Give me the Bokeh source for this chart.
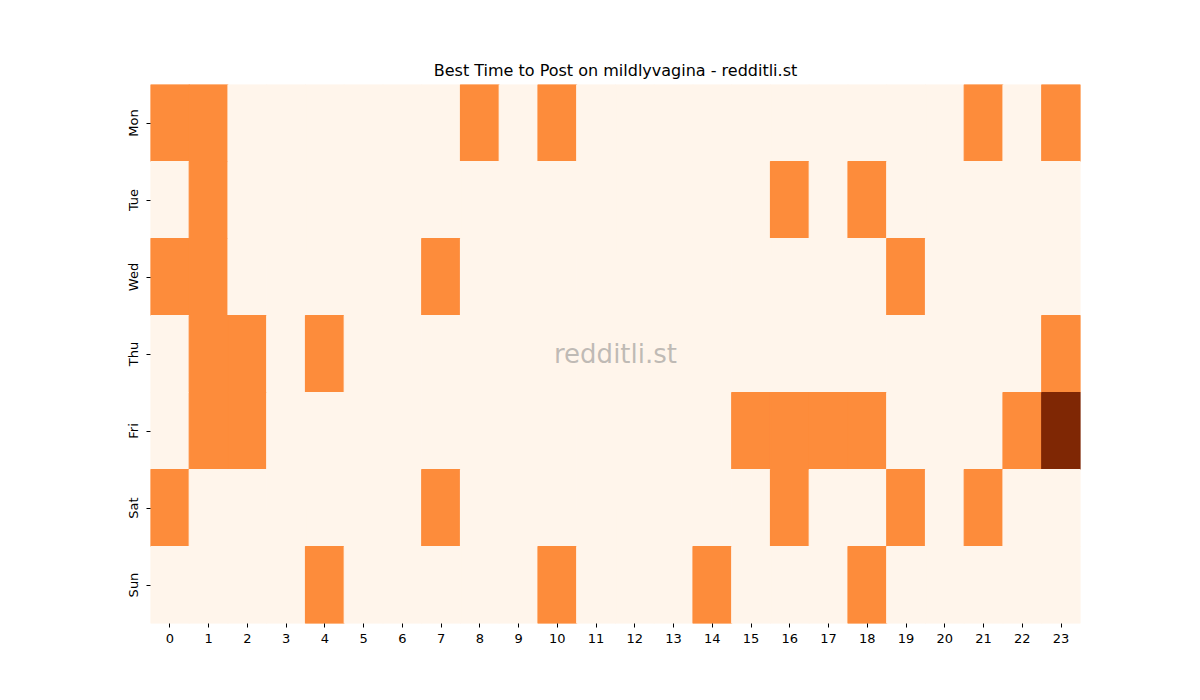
import math
from bokeh.plotting import figure
from bokeh.models import ColumnDataSource, FactorRange, LinearColorMapper
from bokeh.palettes import Oranges256
from bokeh.embed import file_html
from bokeh.resources import INLINE
from bokeh.core.properties import value

days = ["Mon", "Tue", "Wed", "Thu", "Fri", "Sat", "Sun"]
hours = [str(h) for h in range(24)]

# rows: Mon..Sun, columns: hour 0..23
mon = [1,1,0,0,0,0,0,0,1,0,1,0,0,0,0,0,0,0,0,0,0,1,0,1]
tue = [0,1,0,0,0,0,0,0,0,0,0,0,0,0,0,0,1,0,1,0,0,0,0,0]
wed = [1,1,0,0,0,0,0,1,0,0,0,0,0,0,0,0,0,0,0,1,0,0,0,0]
thu = [0,1,1,0,1,0,0,0,0,0,0,0,0,0,0,0,0,0,0,0,0,0,0,1]
fri = [0,1,1,0,0,0,0,0,0,0,0,0,0,0,0,1,1,1,1,0,0,0,1,2]
sat = [1,0,0,0,0,0,0,1,0,0,0,0,0,0,0,0,1,0,0,1,0,1,0,0]
sun = [0,0,0,0,1,0,0,0,0,0,1,0,0,0,1,0,0,0,1,0,0,0,0,0]
rows = [mon, tue, wed, thu, fri, sat, sun]

xs, ys, vs = [], [], []
for d, r in zip(days, rows):
    for h, v in zip(hours, r):
        xs.append(h)
        ys.append(d)
        vs.append(v)

src = ColumnDataSource(dict(x=xs, y=ys, v=vs))
mapper = LinearColorMapper(palette=list(reversed(Oranges256)), low=0, high=max(vs))

p = figure(width=1184, height=684, output_backend="svg", toolbar_location=None,
           x_range=FactorRange(factors=hours), y_range=FactorRange(factors=list(reversed(days))),
           frame_width=930, frame_height=539,
           min_border_left=150, min_border_right=104, min_border_top=84, min_border_bottom=61,
           title="Best Time to Post on mildlyvagina - redditli.st")
p.rect(x="x", y="y", width=1, height=1, source=src,
       fill_color={"field": "v", "transform": mapper},
       line_color={"field": "v", "transform": mapper}, line_width=1.2)

p.text(x=[12], y=[3.5], text=["redditli.st"], text_align="center", text_baseline="middle",
       text_font=value("DejaVu Sans"), text_font_size="26px", text_color="gray", text_alpha=0.5)

p.title.align = "center"
p.title.text_font = "DejaVu Sans"
p.title.text_font_size = "16px"
p.title.text_font_style = "normal"
p.title.text_color = "black"
p.title.offset = 0

p.grid.visible = False
p.outline_line_color = None
p.background_fill_color = "white"
p.border_fill_color = "white"
for ax in (p.xaxis[0], p.yaxis[0]):
    ax.axis_line_color = None
    ax.major_tick_in = 0
    ax.major_tick_out = 4
    ax.minor_tick_line_color = None
    ax.major_tick_line_color = "black"
    ax.major_label_text_font = "DejaVu Sans"
    ax.major_label_text_font_size = "13px"
    ax.major_label_text_color = "black"
    ax.major_label_standoff = 6
    ax.group_text_font_size = "0px"
p.yaxis[0].major_label_orientation = "vertical"
p.x_range.range_padding = 0
p.y_range.range_padding = 0

open("out.html", "w").write(file_html(p, INLINE))
